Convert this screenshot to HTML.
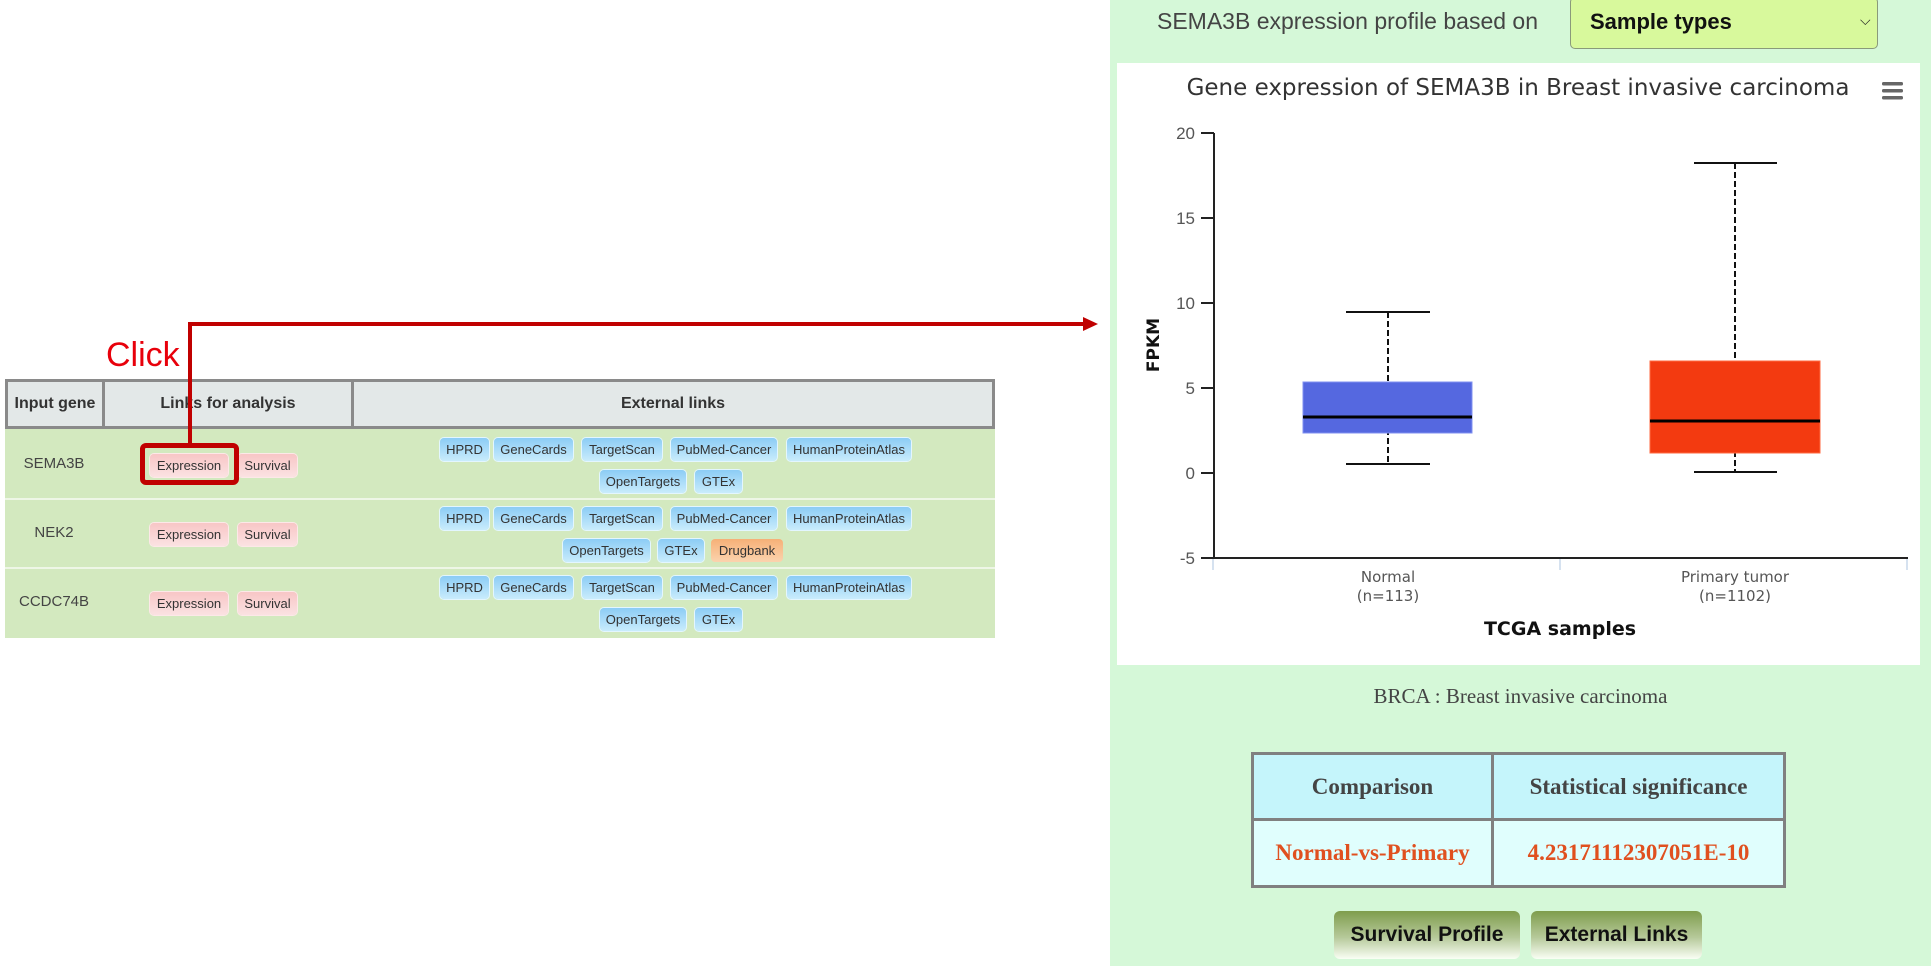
<!DOCTYPE html>
<html><head><meta charset="utf-8"><style>
*{margin:0;padding:0;box-sizing:border-box}
body{width:1931px;height:966px;position:relative;background:#fff;font-family:"Liberation Sans",sans-serif;overflow:hidden}
.a{position:absolute}
.b{position:absolute;height:23px;line-height:23px;font-size:13px;color:#333;text-align:center;border-radius:4px;white-space:nowrap}
.p{background:linear-gradient(#f8c6c6,#fbe2e2);box-shadow:0 0 0 1px #fde8e8}
.q{background:linear-gradient(#8cccf5,#c9ecfc);box-shadow:0 0 0 1px #e3f6ff}
.o{background:linear-gradient(#f6b077,#fbd3ae)}
.hd{position:absolute;top:379px;height:50px;line-height:44px;background:#e3e8e8;font-size:16px;font-weight:bold;color:#333;text-align:center;border:3px solid #8a8a8a}
.gene{position:absolute;left:5px;width:98px;text-align:center;font-size:15px;color:#444}
.tb{position:absolute;background:linear-gradient(#7f9d4d,#b6c99a 55%,#fafff5);border-radius:6px;font-weight:bold;font-size:21px;color:#111;text-align:center;line-height:48px;height:48px;top:911px}
</style></head><body>

<div class="a" style="left:5px;top:429px;width:990px;height:209px;background:#d3e9bf"></div>
<div class="a" style="left:5px;top:498px;width:990px;height:2px;background:#eef6e6"></div>
<div class="a" style="left:5px;top:567px;width:990px;height:2px;background:#eef6e6"></div>
<div class="hd" style="left:5px;width:100px">Input gene</div>
<div class="hd" style="left:102px;width:252px">Links for analysis</div>
<div class="hd" style="left:351px;width:644px">External links</div>

<div class="gene" style="top:455px">SEMA3B</div>
<div class="gene" style="top:524px">NEK2</div>
<div class="gene" style="top:593px">CCDC74B</div>

<div class="b p" style="left:150px;top:454px;width:78px">Expression</div>
<div class="b p" style="left:238px;top:454px;width:59px">Survival</div>
<div class="b p" style="left:150px;top:523px;width:78px">Expression</div>
<div class="b p" style="left:238px;top:523px;width:59px">Survival</div>
<div class="b p" style="left:150px;top:592px;width:78px">Expression</div>
<div class="b p" style="left:238px;top:592px;width:59px">Survival</div>

<div class="b q" style="left:440px;top:438px;width:49px">HPRD</div>
<div class="b q" style="left:494px;top:438px;width:79px">GeneCards</div>
<div class="b q" style="left:582px;top:438px;width:80px">TargetScan</div>
<div class="b q" style="left:671px;top:438px;width:106px">PubMed-Cancer</div>
<div class="b q" style="left:787px;top:438px;width:124px">HumanProteinAtlas</div>
<div class="b q" style="left:600px;top:470px;width:86px">OpenTargets</div>
<div class="b q" style="left:695px;top:470px;width:47px">GTEx</div>

<div class="b q" style="left:440px;top:507px;width:49px">HPRD</div>
<div class="b q" style="left:494px;top:507px;width:79px">GeneCards</div>
<div class="b q" style="left:582px;top:507px;width:80px">TargetScan</div>
<div class="b q" style="left:671px;top:507px;width:106px">PubMed-Cancer</div>
<div class="b q" style="left:787px;top:507px;width:124px">HumanProteinAtlas</div>
<div class="b q" style="left:563px;top:539px;width:87px">OpenTargets</div>
<div class="b q" style="left:658px;top:539px;width:46px">GTEx</div>
<div class="b o" style="left:711px;top:539px;width:72px">Drugbank</div>

<div class="b q" style="left:440px;top:576px;width:49px">HPRD</div>
<div class="b q" style="left:494px;top:576px;width:79px">GeneCards</div>
<div class="b q" style="left:582px;top:576px;width:80px">TargetScan</div>
<div class="b q" style="left:671px;top:576px;width:106px">PubMed-Cancer</div>
<div class="b q" style="left:787px;top:576px;width:124px">HumanProteinAtlas</div>
<div class="b q" style="left:600px;top:608px;width:86px">OpenTargets</div>
<div class="b q" style="left:695px;top:608px;width:47px">GTEx</div>

<div class="a" style="left:106px;top:336px;font-size:34px;color:#e8000b;font-family:'Liberation Sans',sans-serif">Click</div>
<div class="a" style="left:140px;top:443px;width:99px;height:42px;border:5px solid #c00000;border-radius:6px"></div>
<svg class="a" style="left:0;top:0" width="1110" height="500">
<path d="M190 446 V324 H1085" fill="none" stroke="#c00000" stroke-width="4"/>
<polygon points="1083,317 1098,324 1083,331" fill="#c00000"/>
</svg>

<div class="a" style="left:1110px;top:0;width:821px;height:966px;background:#d5f8d8"></div>
<div class="a" style="left:1157px;top:8px;font-size:23px;color:#444">SEMA3B expression profile based on</div>
<div class="a" style="left:1570px;top:-3px;width:308px;height:52px;background:#d8f99c;border:1px solid #8a9a7a;border-radius:5px"></div>
<div class="a" style="left:1590px;top:9px;font-size:22px;font-weight:bold;color:#111">Sample types</div>
<div class="a" style="left:1860px;top:12px;font-size:14px;color:#222">&#x2335;</div>

<div class="a" style="left:1117px;top:63px;width:803px;height:602px;background:#fff"></div>
<svg class="a" style="left:0;top:0" width="1931" height="966" font-family="'DejaVu Sans',sans-serif">
<text x="1518" y="95" text-anchor="middle" font-size="23" fill="#333">Gene expression of SEMA3B in Breast invasive carcinoma</text>
<g fill="#666"><rect x="1882" y="82" width="21" height="3.5" rx="1.5"/><rect x="1882" y="89" width="21" height="3.5" rx="1.5"/><rect x="1882" y="96" width="21" height="3.5" rx="1.5"/></g>
<g stroke="#222" stroke-width="2"><line x1="1214" y1="133" x2="1214" y2="558"/><line x1="1213" y1="558" x2="1908" y2="558"/>
<line x1="1201" y1="133" x2="1214" y2="133"/><line x1="1201" y1="218" x2="1214" y2="218"/><line x1="1201" y1="303" x2="1214" y2="303"/><line x1="1201" y1="388" x2="1214" y2="388"/><line x1="1201" y1="473" x2="1214" y2="473"/><line x1="1201" y1="558" x2="1214" y2="558"/></g>
<g stroke="#c8d8ea" stroke-width="1.5"><line x1="1213" y1="559" x2="1213" y2="570"/><line x1="1560" y1="559" x2="1560" y2="570"/><line x1="1907" y1="559" x2="1907" y2="570"/></g>
<g font-family="'Liberation Sans',sans-serif" font-size="17" fill="#555" text-anchor="end">
<text x="1195" y="139">20</text><text x="1195" y="224">15</text><text x="1195" y="309">10</text><text x="1195" y="394">5</text><text x="1195" y="479">0</text><text x="1195" y="564">-5</text></g>
<text transform="translate(1159,345) rotate(-90)" text-anchor="middle" font-size="17" font-weight="bold" fill="#111">FPKM</text>
<g stroke="#111" stroke-width="2"><line x1="1388" y1="312" x2="1388" y2="464" stroke-dasharray="6,3"/><line x1="1346" y1="312" x2="1430" y2="312"/><line x1="1346" y1="464" x2="1430" y2="464"/></g>
<rect x="1303" y="382" width="169" height="51" fill="#5568e0" stroke="#8090f0"/>
<line x1="1303" y1="417" x2="1472" y2="417" stroke="#000" stroke-width="3"/>
<g stroke="#111" stroke-width="2"><line x1="1735" y1="163" x2="1735" y2="472" stroke-dasharray="6,3"/><line x1="1694" y1="163" x2="1777" y2="163"/><line x1="1694" y1="472" x2="1777" y2="472"/></g>
<rect x="1650" y="361" width="170" height="92" fill="#f33a10" stroke="#ff6a40"/>
<line x1="1650" y1="421" x2="1820" y2="421" stroke="#000" stroke-width="3"/>
<g font-size="15" fill="#555" text-anchor="middle"><text x="1388" y="582">Normal</text><text x="1388" y="601">(n=113)</text><text x="1735" y="582">Primary tumor</text><text x="1735" y="601">(n=1102)</text></g>
<text x="1560" y="635" text-anchor="middle" font-size="19" font-weight="bold" fill="#111">TCGA samples</text>
</svg>

<div class="a" style="left:1110px;top:684px;width:821px;text-align:center;font-family:'Liberation Serif',serif;font-size:21px;color:#444">BRCA : Breast invasive carcinoma</div>

<div class="a" style="left:1251px;top:752px;width:535px;height:136px;background:#808080"></div>
<div class="a" style="left:1254px;top:755px;width:237px;height:63px;background:#c5f5fb;font:bold 23px 'Liberation Serif',serif;color:#444;text-align:center;line-height:63px">Comparison</div>
<div class="a" style="left:1494px;top:755px;width:289px;height:63px;background:#c5f5fb;font:bold 23px 'Liberation Serif',serif;color:#444;text-align:center;line-height:63px">Statistical significance</div>
<div class="a" style="left:1254px;top:821px;width:237px;height:64px;background:#e0fefd;font:bold 23px 'Liberation Serif',serif;color:#e0501f;text-align:center;line-height:64px">Normal-vs-Primary</div>
<div class="a" style="left:1494px;top:821px;width:289px;height:64px;background:#e0fefd;font:bold 23px 'Liberation Serif',serif;color:#e0501f;text-align:center;line-height:64px">4.23171112307051E-10</div>

<div class="tb" style="left:1334px;width:186px">Survival Profile</div>
<div class="tb" style="left:1531px;width:171px">External Links</div>
</body></html>
